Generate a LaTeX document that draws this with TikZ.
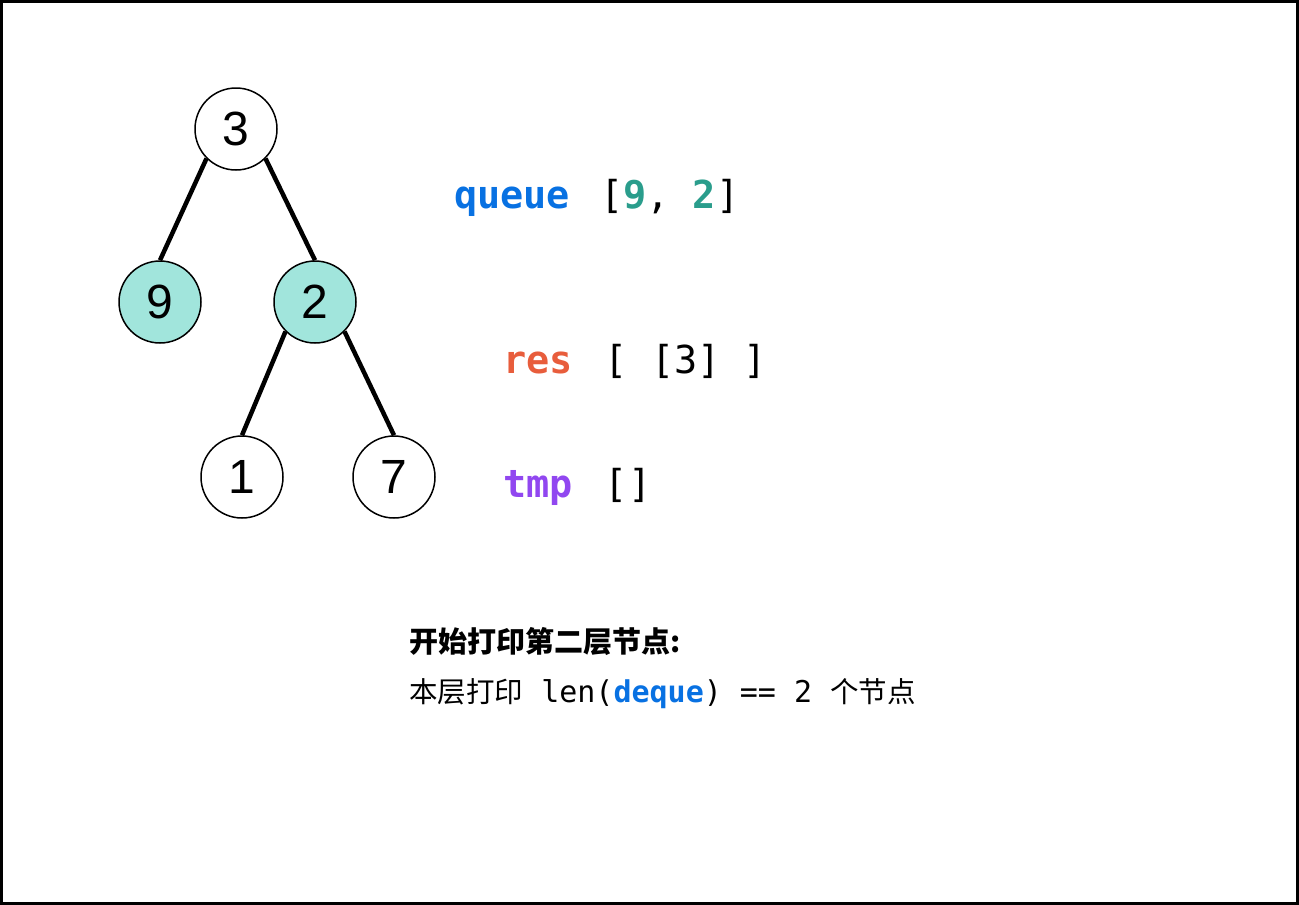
\documentclass[tikz,border=0pt]{standalone}
\usepackage{fontspec}
\setmonofont{DejaVu Sans Mono}
\newfontfamily\cjk{Noto Sans CJK SC}
\newfontfamily\digitfont{Liberation Sans}
\usetikzlibrary{positioning}
\definecolor{queueblue}{RGB}{8,113,226}
\definecolor{numteal}{RGB}{42,157,140}
\definecolor{resred}{RGB}{232,93,60}
\definecolor{tmppurple}{RGB}{145,71,240}
\definecolor{queuedfill}{RGB}{161,229,220}
\tikzset{
  treenode/.style={circle, draw=black, fill=white, line width=1.5pt,
                   inner sep=0pt, minimum size=82pt,
                   font=\digitfont\fontsize{48}{48}\selectfont},
  queuednode/.style={treenode, fill=queuedfill},
  treeedge/.style={line width=4.5pt},
  codetext/.style={inner sep=0pt, anchor=base west,
                   font=\ttfamily\fontsize{38.5}{42}\selectfont},
  notetext/.style={inner sep=0pt, anchor=base west},
}

\begin{document}
\begin{tikzpicture}[x=1pt, y=-1pt]
    \useasboundingbox (0,0) rectangle (1299,905);
    \draw[line width=3pt] (1.5,1.5) rectangle (1297.5,903.5);
    % Tree
    \node[treenode]   (n3) at (236,129) {3};
    \node[queuednode] (n9) at (160,302) {9};
    \node[queuednode] (n2) at (315,302) {2};
    \node[treenode]   (n1) at (242,477) {1};
    \node[treenode]   (n7) at (394,477) {7};
    \draw[treeedge] (n3.south west) -- (n9.north);
    \draw[treeedge] (n3.south east) -- (n2.north);
    \draw[treeedge] (n2.south west) -- (n1.north);
    \draw[treeedge] (n2.south east) -- (n7.north);
    % Queue state
    \node[codetext] (queue) at (454,208)
      {{\color{queueblue}\bfseries queue}\ \hspace{7pt}[{\color{numteal}\bfseries 9}, {\color{numteal}\bfseries 2}]};
    \node[codetext] (res) at (503,373)
      {{\color{resred}\bfseries res}\ \hspace{9pt}[ [3] ]};
    \node[codetext] (tmp) at (503,497)
      {{\color{tmppurple}\bfseries tmp}\ \hspace{9pt}[]};
    % Notes
    \node[notetext] (note1) at (409,652)
      {\cjk\bfseries\fontsize{29}{32}\selectfont 开始打印第二层节点:};
    \node[notetext] (note2) at (409,702)
      {{\cjk\fontsize{28.5}{32}\selectfont 本层打印}{\ttfamily\fontsize{30}{32}\selectfont\ len({\color{queueblue}\bfseries deque}) == 2\ }{\cjk\fontsize{28.5}{32}\selectfont 个节点}};
\end{tikzpicture}
\end{document}
